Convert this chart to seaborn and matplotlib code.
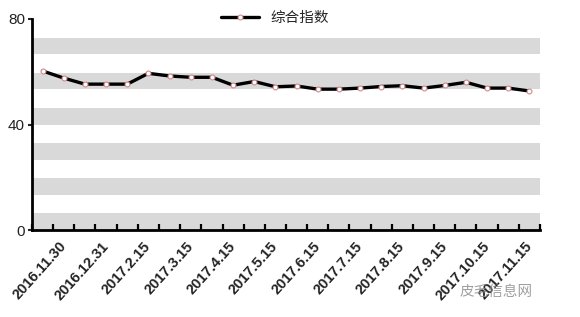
import numpy as np
import pandas as pd
import matplotlib
matplotlib.use("Agg")
import matplotlib.pyplot as plt
import seaborn as sns

# ---- data ----
values = [60.3, 57.6, 55.3, 55.3, 55.3, 59.4, 58.4, 57.9, 57.9, 54.9, 56.3, 54.3,
          54.6, 53.4, 53.4, 53.8, 54.4, 54.7, 53.8, 54.8, 56.0, 53.8, 53.8, 52.7]
date_labels = ["2016.11.30", "2016.12.31", "2017.2.15", "2017.3.15", "2017.4.15",
               "2017.5.15", "2017.6.15", "2017.7.15", "2017.8.15", "2017.9.15",
               "2017.10.15", "2017.11.15"]
series_name = "综合指数"
y_ticks = [0, 40, 80]

df = pd.DataFrame({"idx": np.arange(len(values)), "value": values})

sns.set_style("white")
plt.rcParams["font.family"] = ["Liberation Sans", "DejaVu Sans"]

fig = plt.figure(figsize=(5.8, 3.17), dpi=100)
ax = fig.add_axes([32 / 580, 87 / 317, 508 / 580, 211 / 317])

# alternating gray bands
step = 80 / 6
for k in range(6):
    ax.axhspan(k * step, k * step + step * 0.47, color="#d9d9d9", lw=0, zorder=0)

sns.lineplot(data=df, x="idx", y="value", ax=ax, color="black", lw=2.4,
             marker="o", markersize=3.5, markerfacecolor="white",
             markeredgecolor="#d08a8a", markeredgewidth=0.8,
             label=series_name, zorder=3, legend=False)

ax.set_xlim(-0.5, len(values) - 0.5)
ax.set_ylim(0, 80)
ax.set_xlabel("")
ax.set_ylabel("")

# y axis
ax.set_yticks(y_ticks)
ax.set_yticklabels([str(v) for v in y_ticks], fontsize=11, color="#222222")
ax.tick_params(axis="y", direction="out", length=3, width=1.5, pad=2, left=True)

# x axis: boundary ticks (minor) and labels at odd categories
ax.set_xticks(np.arange(-0.5, len(values)), minor=True)
ax.set_xticks(np.arange(1, len(values), 2))
ax.set_xticklabels(date_labels, rotation=48, ha="right", va="center",
                   rotation_mode="anchor", fontsize=10.5, fontweight="bold",
                   color="#222222")
ax.tick_params(axis="x", which="major", length=0, pad=10)
ax.tick_params(axis="x", which="minor", direction="in", length=4.5, width=1.6,
               bottom=True, color="black")

for s in ["top", "right"]:
    ax.spines[s].set_visible(False)
for s in ["left", "bottom"]:
    ax.spines[s].set_linewidth(2)
    ax.spines[s].set_color("black")

# legend
h, l = ax.get_legend_handles_labels()
leg = fig.legend(h, l, loc="center", bbox_to_anchor=(275 / 580, 1 - 18 / 317),
                 frameon=False, handlelength=2.6, handletextpad=0.8,
                 prop={"family": ["Noto Sans CJK SC", "DejaVu Sans"], "size": 10.5})

# watermark
fig.text(533 / 580, 1 - 292 / 317, "皮毛信息网", ha="right", va="center",
         fontsize=10.5, color="#888888", alpha=0.8,
         family=["Noto Sans CJK SC", "DejaVu Sans"])

fig.savefig("out.png", dpi=100)
